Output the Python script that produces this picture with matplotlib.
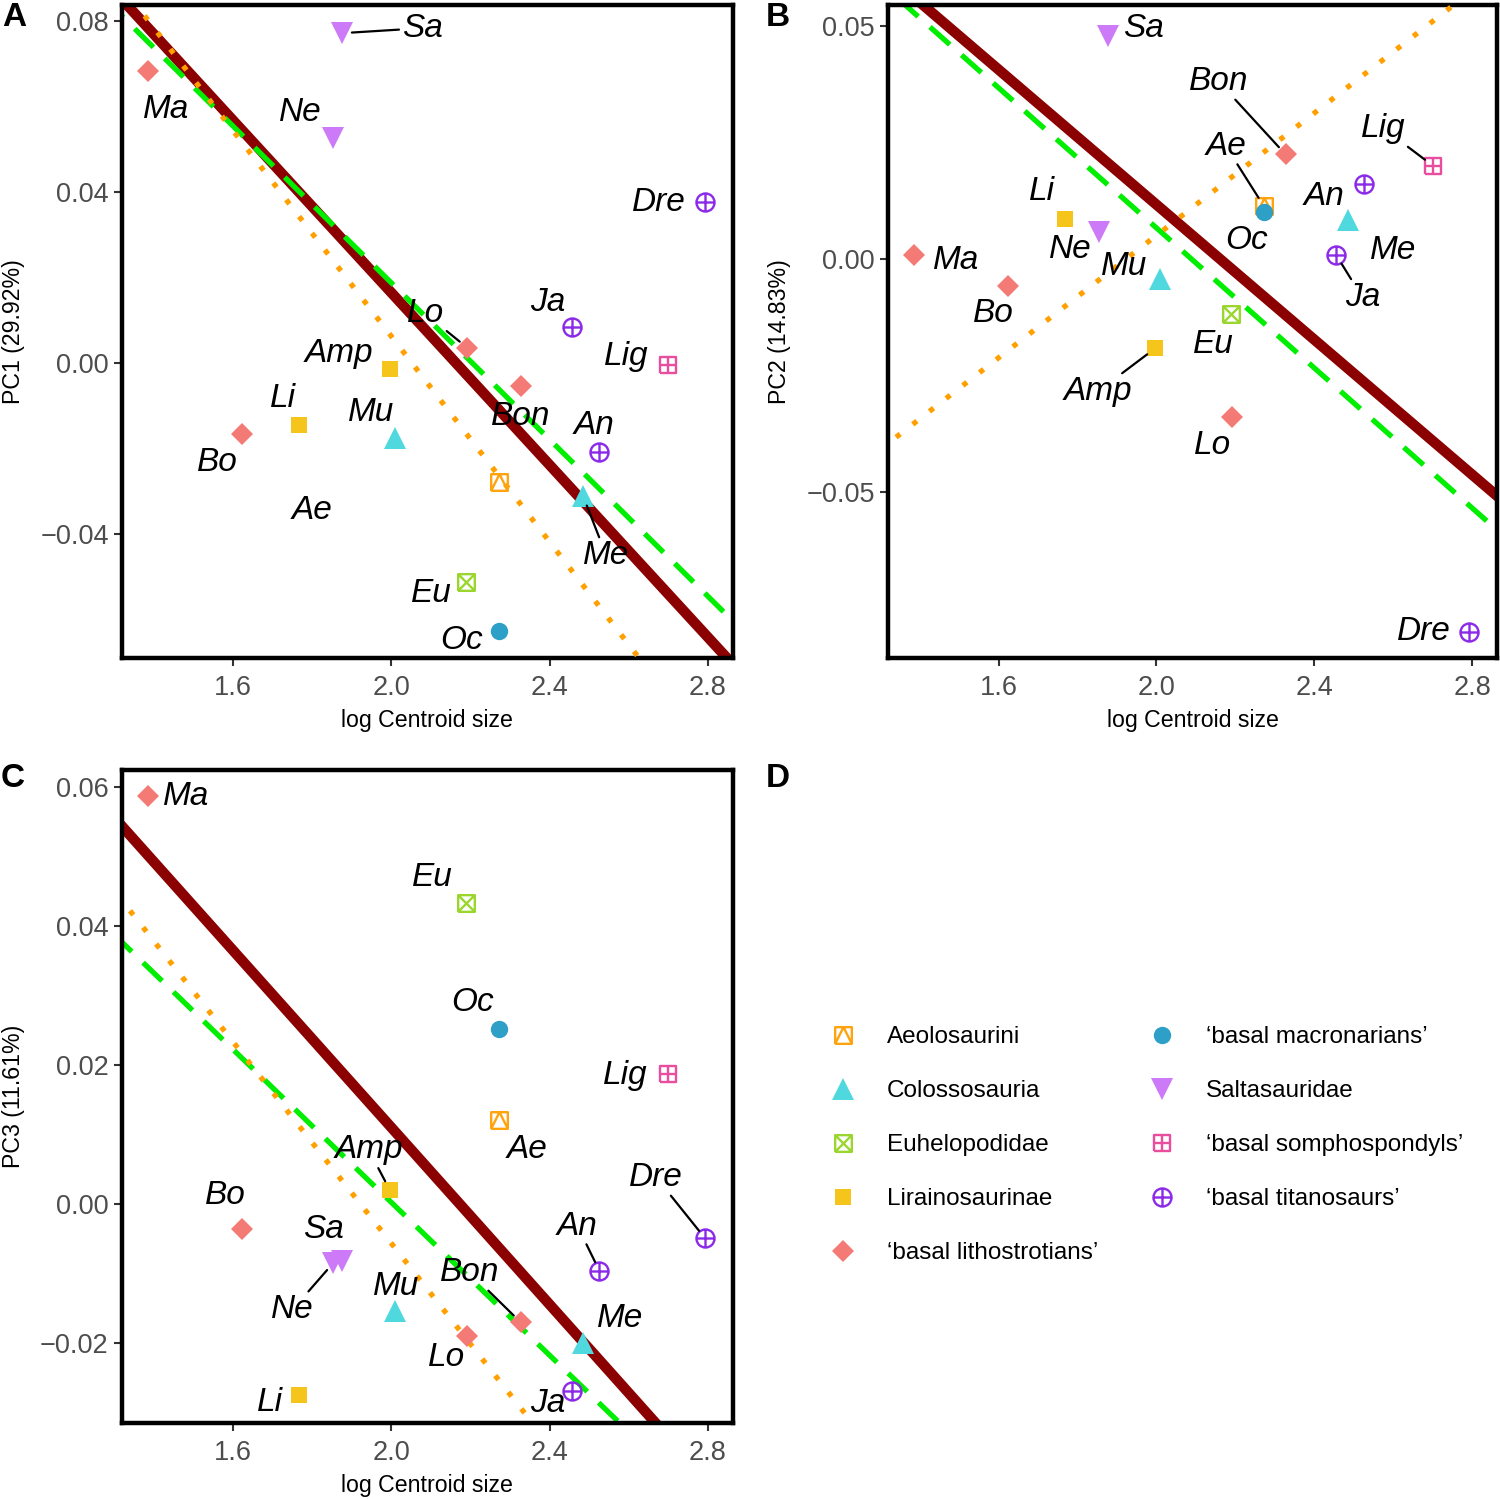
import numpy as np
import matplotlib
matplotlib.use('Agg')
import matplotlib.pyplot as plt
from matplotlib.path import Path
from matplotlib.lines import Line2D

plt.rcParams['font.family'] = ['Liberation Sans', 'DejaVu Sans']

# ---- data ----
taxa = ['Sa', 'Ma', 'Ne', 'Dre', 'Ja', 'Lig', 'Lo', 'Bon', 'Amp',
        'Li', 'Mu', 'Bo', 'An', 'Ae', 'Me', 'Eu', 'Oc']
group = ['Saltasauridae', 'basal lithostrotians', 'Saltasauridae',
         'basal titanosaurs', 'basal titanosaurs', 'basal somphospondyls',
         'basal lithostrotians', 'basal lithostrotians', 'Lirainosaurinae',
         'Lirainosaurinae', 'Colossosauria', 'basal lithostrotians',
         'basal titanosaurs', 'Aeolosaurini', 'Colossosauria',
         'Euhelopodidae', 'basal macronarians']
log_cs = [1.876, 1.385, 1.854, 2.793, 2.456, 2.700, 2.192, 2.327, 1.996,
          1.767, 2.010, 1.624, 2.526, 2.272, 2.485, 2.190, 2.272]
pc1 = [0.0772, 0.0683, 0.0526, 0.0377, 0.0084, -0.0004, 0.0036, -0.0054,
       -0.0013, -0.0144, -0.0174, -0.0166, -0.0207, -0.0279, -0.0312,
       -0.0511, -0.0627]
pc2 = [0.0480, 0.0008, 0.0059, -0.0800, 0.0008, 0.0201, -0.0340, 0.0225,
       -0.0192, 0.0087, -0.0043, -0.0057, 0.0162, 0.0114, 0.0084,
       -0.0117, 0.0101]
pc3 = [-0.0083, 0.0588, -0.0085, -0.0050, -0.0270, 0.0187, -0.0190, -0.0171,
       0.0020, -0.0275, -0.0154, -0.0036, -0.0097, 0.0120, -0.0201,
       0.0433, 0.0252]

# fitted lines: (intercept, slope) for [red solid, green dashed, orange dotted]
fit_pc1 = [(0.2181, -0.1008), (0.2022, -0.0917), (0.2469, -0.1203)]
fit_pc2 = [(0.1567, -0.0725), (0.1571, -0.0752), (-0.1263, 0.0657)]
fit_pc3 = [(0.1386, -0.0638), (0.1104, -0.0551), (0.1395, -0.0726)]

pc_labels = ['PC1 (29.92%)', 'PC2 (14.83%)', 'PC3 (11.61%)']

legend_order = ['Aeolosaurini', 'Colossosauria', 'Euhelopodidae',
                'Lirainosaurinae', 'basal lithostrotians',
                'basal macronarians', 'Saltasauridae',
                'basal somphospondyls', 'basal titanosaurs']

# ---- marker shapes (ggplot-like) ----
M, L = Path.MOVETO, Path.LINETO
sq_v = [(-1, -1), (1, -1), (1, 1), (-1, 1), (-1, -1)]
sq_c = [M, L, L, L, L]
square_tri = Path(sq_v + [(-1, -1), (0, 1), (1, -1)], sq_c + [M, L, L])
square_x = Path(sq_v + [(-1, -1), (1, 1), (-1, 1), (1, -1)], sq_c + [M, L, M, L])
square_plus = Path(sq_v + [(0, -1), (0, 1), (-1, 0), (1, 0)], sq_c + [M, L, M, L])
circle_plus = Path.make_compound_path(
    Path.unit_circle(),
    Path([(0, -1), (0, 1), (-1, 0), (1, 0)], [M, L, M, L]))

styles = {
    'Aeolosaurini': dict(marker=square_tri, color='#FFA30F', ms=12, fill=False),
    'Colossosauria': dict(marker='^', color='#4FD8DE', ms=16, fill=True),
    'Euhelopodidae': dict(marker=square_x, color='#9AD62E', ms=12, fill=False),
    'Lirainosaurinae': dict(marker='s', color='#F6C51C', ms=11, fill=True),
    'basal lithostrotians': dict(marker='D', color='#F47A75', ms=11.5, fill=True),
    'basal macronarians': dict(marker='o', color='#2E9FC6', ms=12.5, fill=True),
    'Saltasauridae': dict(marker='v', color='#CC7AF8', ms=16.5, fill=True),
    'basal somphospondyls': dict(marker=square_plus, color='#E94D9E', ms=12, fill=False),
    'basal titanosaurs': dict(marker=circle_plus, color='#8B2BE8', ms=13, fill=False),
}
legend_names = {
    'basal lithostrotians': '\u2018basal lithostrotians\u2019',
    'basal macronarians': '\u2018basal macronarians\u2019',
    'basal somphospondyls': '\u2018basal somphospondyls\u2019',
    'basal titanosaurs': '\u2018basal titanosaurs\u2019',
}

line_styles = [dict(color='#8B0000', lw=7.5, ls='-', solid_capstyle='butt'),
               dict(color='#00EE00', lw=3.8, ls=(0, (5, 3))),
               dict(color='#FFA000', lw=3.8, ls=(0, (1, 3)))]
orange_start = 1.34

# label offsets in pixels (dx, dy down) and which ones get a leader line
offs = [
    {'Sa': (80, -5), 'Ma': (18, 38), 'Ne': (-33, -26), 'Dre': (-46, 1),
     'Ja': (-24, -25), 'Lig': (-42, -8), 'Lo': (-42, -34), 'Bon': (0, 30),
     'Amp': (-51, -15), 'Li': (-16, -26), 'Mu': (-24, -25), 'Bo': (-25, 28),
     'An': (-5, -26), 'Ae': (-187, 28), 'Me': (23, 59), 'Eu': (-35, 12),
     'Oc': (-37, 9)},
    {'Sa': (36, -7), 'Bon': (-67, -73), 'Lig': (-49, -37), 'Ae': (-38, -60),
     'An': (-40, 13), 'Li': (-23, -27), 'Oc': (-17, 28), 'Me': (45, 30),
     'Ne': (-29, 18), 'Ma': (42, 5), 'Mu': (-36, -13), 'Ja': (26, 42),
     'Bo': (-15, 28), 'Eu': (-18, 31), 'Amp': (-57, 43), 'Lo': (-20, 28),
     'Dre': (-45, 0)},
    {'Ma': (38, 1), 'Eu': (-34, -26), 'Oc': (-26, -26), 'Lig': (-43, 2),
     'Ae': (28, 29), 'Amp': (-21, -40), 'Dre': (-49, -61), 'Bo': (-17, -33),
     'An': (-22, -45), 'Sa': (-19, -32), 'Ne': (-41, 47), 'Mu': (1, -24),
     'Bon': (-51, -50), 'Me': (37, -25), 'Lo': (-21, 22), 'Ja': (-24, 12),
     'Li': (-29, 8)},
]
leaders = [['Sa', 'Lo', 'Me'],
           ['Bon', 'Lig', 'Ae', 'Ja', 'Amp'],
           ['Amp', 'Dre', 'An', 'Ne', 'Bon']]

ylims = [(-0.0690, 0.0838), (-0.0857, 0.0546), (-0.0316, 0.0625)]
yticks = [[-0.04, 0.0, 0.04, 0.08], [-0.05, 0.0, 0.05],
          [-0.02, 0.0, 0.02, 0.04, 0.06]]
xticks = [1.6, 2.0, 2.4, 2.8]
xlim = (1.3196, 2.863)

fig = plt.figure(figsize=(15, 14.99), dpi=100)
boxes = [[0.0813, 0.561, 0.4073, 0.4357],
         [0.592, 0.561, 0.406, 0.4357],
         [0.0813, 0.0507, 0.4073, 0.4356]]

for k, (pcs, fits) in enumerate(zip([pc1, pc2, pc3], [fit_pc1, fit_pc2, fit_pc3])):
    ax = fig.add_axes(boxes[k])
    for j, ((b0, b1), st) in enumerate(zip(fits, line_styles)):
        xx = np.array([orange_start if j == 2 else xlim[0] - 0.1, xlim[1] + 0.1])
        ax.plot(xx, b0 + b1 * xx, zorder=1 + j, **st)
    for t, g, x, y in zip(taxa, group, log_cs, pcs):
        s = styles[g]
        ax.plot(x, y, marker=s['marker'], ms=s['ms'], ls='none',
                mfc=s['color'] if s['fill'] else 'none',
                mec=s['color'], mew=0 if s['fill'] else 1.7, zorder=5)
    for t, x, y in zip(taxa, log_cs, pcs):
        dx, dy = offs[k][t]
        arrow = None
        if t in leaders[k]:
            arrow = dict(arrowstyle='-', color='black', lw=1.6,
                         shrinkA=0, shrinkB=7)
        ax.annotate(t, (x, y), xytext=(dx, -dy), textcoords='offset pixels',
                    ha='center', va='center', fontsize=24, style='italic',
                    arrowprops=arrow, zorder=6)
    ax.set_xlim(xlim)
    ax.set_ylim(ylims[k])
    ax.set_xticks(xticks)
    ax.set_xticklabels(['{:.1f}'.format(v) for v in xticks])
    ax.set_yticks(yticks[k])
    ax.set_yticklabels([('\u2212' if v < 0 else '') + '{:.2f}'.format(abs(v))
                        for v in yticks[k]])
    ax.tick_params(direction='out', length=5.5, width=1.5, color='#333333',
                   labelcolor='#4D4D4D', labelsize=19.5)
    ax.tick_params(axis='x', pad=6.5)
    ax.tick_params(axis='y', pad=4)
    for sp in ax.spines.values():
        sp.set_linewidth(3.2)
        sp.set_color('black')
    ax.set_xlabel('log Centroid size', fontsize=16.7)
    ax.set_ylabel(pc_labels[k], fontsize=16.7)
    ax.xaxis.set_label_coords(0.5, -0.078)
    ax.yaxis.set_label_coords(-0.159, 0.5)

for lab, (px, py) in zip('ABCD', [(14, 18), (778, 18), (13, 778), (778, 778)]):
    fig.text(px / 1500, 1 - py / 1499, lab, fontsize=24, fontweight='bold',
             ha='center', va='center')

handles = []
for g in legend_order:
    s = styles[g]
    handles.append(Line2D([], [], marker=s['marker'], ms=s['ms'], ls='none',
                          mfc=s['color'] if s['fill'] else 'none',
                          mec=s['color'], mew=0 if s['fill'] else 1.7))
fig.legend(handles, [legend_names.get(g, g) for g in legend_order], ncol=2,
           loc='upper left', bbox_to_anchor=(831 / 1500, 1 - 1026 / 1499),
           frameon=False, fontsize=17.5, handlelength=1.0,
           handletextpad=1.3, columnspacing=2.12, labelspacing=1.32,
           borderaxespad=0, borderpad=0)

fig.savefig('out.png', dpi=100)
